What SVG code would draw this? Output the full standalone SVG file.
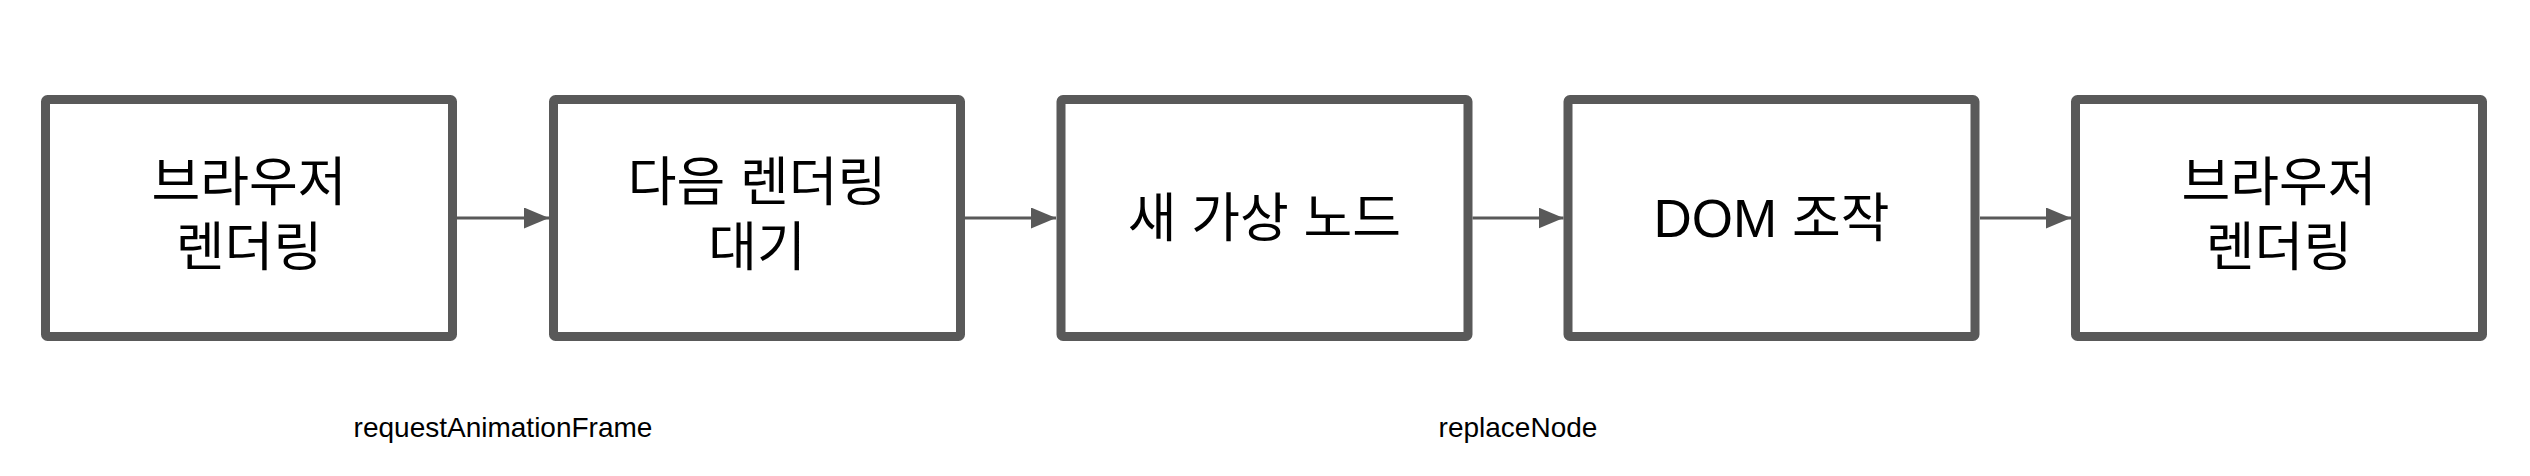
<svg xmlns="http://www.w3.org/2000/svg" width="2530" height="476" viewBox="0 0 2530 476">
<style>
.box{fill:#ffffff;stroke:#595959;stroke-width:9}
.t{font-family:"Liberation Sans","Noto Sans CJK KR",sans-serif;font-size:53px;fill:#000000;text-anchor:middle}
.lbl{font-family:"Liberation Sans","Noto Sans CJK KR",sans-serif;font-size:28px;fill:#000000;text-anchor:middle}
.edge{stroke:#595959;stroke-width:3;fill:none}
</style>
<defs>
<marker id="arr" markerUnits="userSpaceOnUse" markerWidth="26" markerHeight="22" refX="25" refY="10.5" orient="auto">
<path d="M0,0 L25,10.5 L0,21 Z" fill="#595959"/>
</marker>
</defs>
<rect width="2530" height="476" fill="#ffffff"/>
<g id="connectors">
<line class="edge" x1="457" y1="218" x2="549" y2="218" marker-end="url(#arr)"/>
<line class="edge" x1="965" y1="218" x2="1056" y2="218" marker-end="url(#arr)"/>
<line class="edge" x1="1472.5" y1="218" x2="1563.5" y2="218" marker-end="url(#arr)"/>
<line class="edge" x1="1980" y1="218" x2="2071" y2="218" marker-end="url(#arr)"/>
<text class="lbl" x="503" y="437">requestAnimationFrame</text>
<text class="lbl" x="1518" y="437">replaceNode</text>
</g>
<g id="node1">
<rect class="box" x="45.5" y="99.5" width="407" height="237" rx="2"/>
<text class="t" x="249" y="201">브라우저</text>
<text class="t" x="249" y="266">렌더링</text>
</g>
<g id="node2">
<rect class="box" x="553.5" y="99.5" width="407" height="237" rx="2"/>
<text class="t" x="757" y="201">다음 렌더링</text>
<text class="t" x="757" y="266">대기</text>
</g>
<g id="node3">
<rect class="box" x="1061" y="99.5" width="407" height="237" rx="2"/>
<text class="t" x="1264.5" y="237">새 가상 노드</text>
</g>
<g id="node4">
<rect class="box" x="1568" y="99.5" width="407" height="237" rx="2"/>
<text class="t" x="1771.5" y="237">DOM 조작</text>
</g>
<g id="node5">
<rect class="box" x="2075.5" y="99.5" width="407" height="237" rx="2"/>
<text class="t" x="2279" y="201">브라우저</text>
<text class="t" x="2279" y="266">렌더링</text>
</g>
</svg>
